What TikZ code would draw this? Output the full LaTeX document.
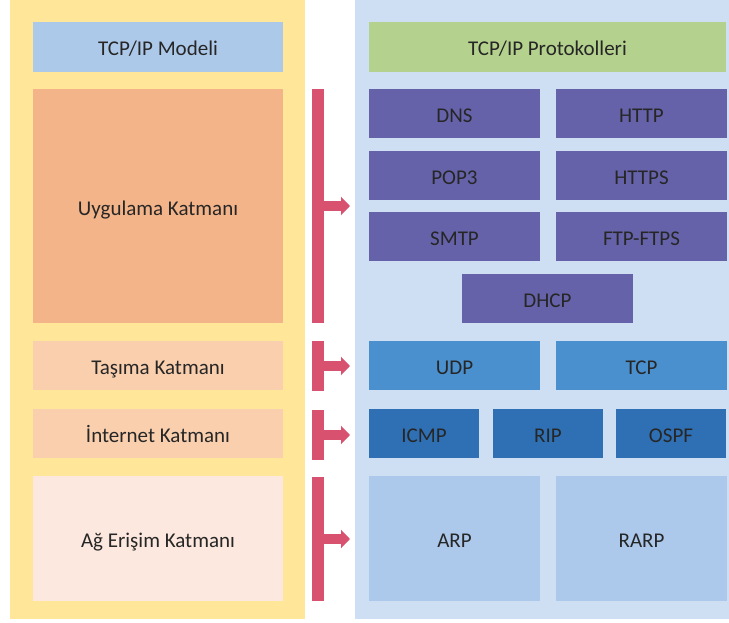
\documentclass[tikz,border=0pt]{standalone}
\usepackage{fontspec}
\setmainfont{Carlito}
\usetikzlibrary{arrows.meta, positioning, backgrounds}
\definecolor{clrPanelL}{HTML}{FFE699}
\definecolor{clrPanelR}{HTML}{CEDFF3}
\definecolor{clrModel}{HTML}{ADC9EA}
\definecolor{clrApp}{HTML}{F4B489}
\definecolor{clrTrans}{HTML}{F9CFAE}
\definecolor{clrNet}{HTML}{F9CFAE}
\definecolor{clrLink}{HTML}{FCE8DE}
\definecolor{clrProto}{HTML}{B4D28E}
\definecolor{clrAppP}{HTML}{6562A9}
\definecolor{clrTransP}{HTML}{4B90CE}
\definecolor{clrNetP}{HTML}{2F70B4}
\definecolor{clrLinkP}{HTML}{ACC9EB}
\definecolor{clrBar}{HTML}{D85270}
\definecolor{clrText}{HTML}{262626}

\begin{document}
\begin{tikzpicture}[
  x=1pt, y=-1pt,
  node distance = 0pt,
  box/.style = {
    rectangle,
    minimum height=49pt,
    inner sep=0pt,
    text height=21pt,
    text depth=3pt,
    font=\fontsize{21}{25}\selectfont,
    text=clrText
  },
  lbox/.style = {box, minimum width=250pt},
  wbox/.style = {box, minimum width=171pt},
  nbox/.style = {box, minimum width=110pt},
  bar/.style = {
    rectangle,
    fill=clrBar,
    minimum width=12pt,
    inner sep=0pt
  },
  arrow/.style = {
    -{Triangle[length=9pt, width=18pt]},
    line width=10pt,
    color=clrBar
  },
  every node/.style={outer sep=0pt}
]
\useasboundingbox (0,0) rectangle (729,623);

% ── left column: model ───────────────────────────────────────────────────────
\node[lbox, fill=clrModel, minimum height=50pt, anchor=north west] (model) at (33,22)
  {TCP/IP Modeli};
\node[lbox, fill=clrApp, minimum height=234pt, below=17pt of model] (app)
  {Uygulama Katmanı};
\node[lbox, fill=clrTrans, below=18pt of app] (trans)
  {Taşıma Katmanı};
\node[lbox, fill=clrNet, below=19pt of trans] (net)
  {İnternet Katmanı};
\node[lbox, fill=clrLink, minimum height=125pt, below=18pt of net] (link)
  {Ağ Erişim Katmanı};

% ── right column: protocols ──────────────────────────────────────────────────
\node[box, fill=clrProto, minimum width=357pt, minimum height=50pt, anchor=north west] (proto) at (369,22)
  {TCP/IP Protokolleri};

\node[wbox, fill=clrAppP, anchor=north west] (dns) at (369,89) {DNS};
\node[wbox, fill=clrAppP, right=16pt of dns] (http) {HTTP};
\node[wbox, fill=clrAppP, below=13pt of dns] (pop) {POP3};
\node[wbox, fill=clrAppP, right=16pt of pop] (https) {HTTPS};
\node[wbox, fill=clrAppP, below=12pt of pop] (smtp) {SMTP};
\node[wbox, fill=clrAppP, right=16pt of smtp] (ftp) {FTP-FTPS};
\node[wbox, fill=clrAppP, anchor=north west] (dhcp) at (462,274) {DHCP};

\node[wbox, fill=clrTransP, anchor=north west] (udp) at (369,341) {UDP};
\node[wbox, fill=clrTransP, right=16pt of udp] (tcp) {TCP};

\node[nbox, fill=clrNetP, anchor=north west] (icmp) at (369,409) {ICMP};
\node[nbox, fill=clrNetP, right=14pt of icmp] (rip) {RIP};
\node[nbox, fill=clrNetP, right=13pt of rip] (ospf) {OSPF};

\node[wbox, fill=clrLinkP, minimum height=125pt, anchor=north west] (arp) at (369,476) {ARP};
\node[wbox, fill=clrLinkP, minimum height=125pt, right=16pt of arp] (rarp) {RARP};

% ── brackets ─────────────────────────────────────────────────────────────────
\node[bar, minimum height=234pt, anchor=north west] (barapp)   at (312,89)  {};
\node[bar, minimum height=50pt,  anchor=north west] (bartrans) at (312,341) {};
\node[bar, minimum height=50pt,  anchor=north west] (barnet)   at (312,410) {};
\node[bar, minimum height=124pt, anchor=north west] (barlink)  at (312,477) {};
\coordinate (tip) at (350,0);

% ── arrows ───────────────────────────────────────────────────────────────────
\draw[arrow] (barapp.east)   -- (barapp.east -| tip);
\draw[arrow] (bartrans.east) -- (bartrans.east -| tip);
\draw[arrow] (barnet.east)   -- (barnet.east -| tip);
\draw[arrow] (barlink.east)  -- (barlink.east -| tip);

% ── background panels ────────────────────────────────────────────────────────
\begin{pgfonlayer}{background}
  \fill[white] (0,0) rectangle (729,623);
  \fill[clrPanelL] (10,0) rectangle (305,619);
  \fill[clrPanelR] (355,0) rectangle (729,619);
\end{pgfonlayer}

\end{tikzpicture}
\end{document}
